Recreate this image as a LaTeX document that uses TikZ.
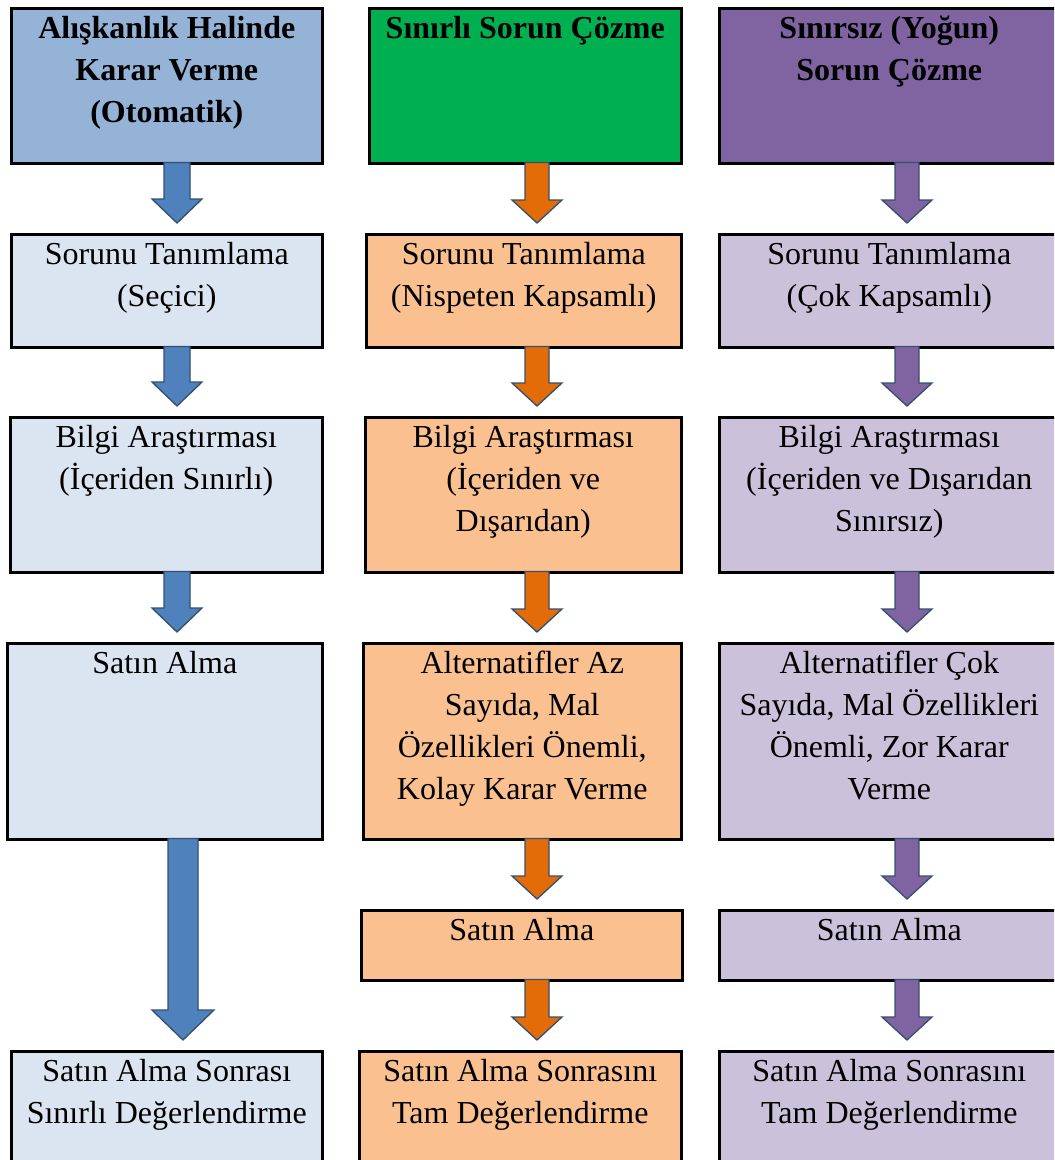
\documentclass[tikz,border=0pt]{standalone}
\usepackage{fontspec}
\setmainfont{Liberation Serif}
\usetikzlibrary{calc}
\definecolor{hdrA}{HTML}{95B3D7}
\definecolor{boxA}{HTML}{DBE5F1}
\definecolor{arrA}{HTML}{4F81BD}
\definecolor{hdrB}{HTML}{00B050}
\definecolor{boxB}{HTML}{FAC090}
\definecolor{arrB}{HTML}{E36C09}
\definecolor{hdrC}{HTML}{8064A2}
\definecolor{boxC}{HTML}{CCC1DA}
\definecolor{arrC}{HTML}{8064A2}
\definecolor{arrline}{HTML}{34506F}
\tikzset{
  stagebox/.style={draw=black, line width=1.9pt, rectangle, inner sep=0pt, anchor=north west},
  stagetext/.style={anchor=north, inner sep=0pt, align=center, text=black,
    font=\fontsize{24pt}{31.5pt}\selectfont},
  blockarrow/.style={draw=arrline, line width=1pt, line join=miter},
}
% name, x1, y1, x2, y2, fill, text
\newcommand\stg[7]{%
  \pgfmathsetmacro\stgw{(#4-#2)*0.75}%
  \pgfmathsetmacro\stgh{(#5-#3)*0.75}%
  \node[stagebox, fill=#6, minimum width=\stgw pt, minimum height=\stgh pt] (#1) at (#2,#3) {};
  \node[stagetext] (#1t) at ($(#1.north)+(0,2)$) {\strut #7};
}
% from, to, axis x (px), fill, shaft half width, head half width, head length (px)
\newcommand\blk[7]{%
  \draw[blockarrow, fill=#4] let \p1=(#1.south), \p2=(#2.north) in
    ({#3*0.75pt-#5*0.75pt}, {\y1+1.5pt}) --
    ({#3*0.75pt+#5*0.75pt}, {\y1+1.5pt}) --
    ({#3*0.75pt+#5*0.75pt}, {\y2+7.5pt+#7*0.75pt}) --
    ({#3*0.75pt+#6*0.75pt}, {\y2+7.5pt+#7*0.75pt}) --
    ({#3*0.75pt}, {\y2+7.5pt}) --
    ({#3*0.75pt-#6*0.75pt}, {\y2+7.5pt+#7*0.75pt}) --
    ({#3*0.75pt-#5*0.75pt}, {\y2+7.5pt+#7*0.75pt}) -- cycle;
}
\begin{document}
\begin{tikzpicture}[x=0.75pt, y=-0.75pt]
\useasboundingbox (0,0) rectangle (1054,1160);
\clip (0,0) rectangle (1054,1160);
\fill[white] (0,0) rectangle (1054,1160);

% Column 1
\stg{a1}{10}{7}{321}{162}{hdrA}{\bfseries Alışkanlık Halinde\\\bfseries Karar Verme\\\bfseries (Otomatik)}
\stg{a2}{10}{233}{321}{346}{boxA}{Sorunu Tanımlama\\(Seçici)}
\stg{a3}{9}{416}{321}{571}{boxA}{Bilgi Araştırması\\(İçeriden Sınırlı)}
\stg{a4}{6}{642}{321}{838}{boxA}{Satın Alma}
\stg{a6}{10}{1050}{321}{1180}{boxA}{Satın Alma Sonrası\\Sınırlı Değerlendirme}

% Column 2
\stg{b1}{368}{7}{680}{162}{hdrB}{\bfseries Sınırlı Sorun Çözme}
\stg{b2}{365}{233}{680}{346}{boxB}{Sorunu Tanımlama\\(Nispeten Kapsamlı)}
\stg{b3}{364}{416}{680}{571}{boxB}{Bilgi Araştırması\\(İçeriden ve\\Dışarıdan)}
\stg{b4}{362}{642}{680}{838}{boxB}{Alternatifler Az\\Sayıda, Mal\\Özellikleri Önemli,\\Kolay Karar Verme}
\stg{b5}{360}{909}{681}{979}{boxB}{Satın Alma}
\stg{b6}{358}{1050}{680}{1180}{boxB}{Satın Alma Sonrasını\\Tam Değerlendirme}

% Column 3
\stg{c1}{718}{7}{1058}{162}{hdrC}{\bfseries Sınırsız (Yoğun)\\\bfseries Sorun Çözme}
\stg{c2}{718}{233}{1058}{346}{boxC}{Sorunu Tanımlama\\(Çok Kapsamlı)}
\stg{c3}{718}{416}{1058}{571}{boxC}{Bilgi Araştırması\\(İçeriden ve Dışarıdan\\Sınırsız)}
\stg{c4}{718}{642}{1058}{838}{boxC}{Alternatifler Çok\\Sayıda, Mal Özellikleri\\Önemli, Zor Karar\\Verme}
\stg{c5}{718}{909}{1058}{979}{boxC}{Satın Alma}
\stg{c6}{718}{1050}{1058}{1180}{boxC}{Satın Alma Sonrasını\\Tam Değerlendirme}

% Arrows column 1
\blk{a1}{a2}{177}{arrA}{13}{25}{24}
\blk{a2}{a3}{177}{arrA}{13}{25}{24}
\blk{a3}{a4}{177}{arrA}{13}{25}{24}
\blk{a4}{a6}{183}{arrA}{15}{31}{30}

% Arrows column 2
\blk{b1}{b2}{537}{arrB}{12}{25}{23}
\blk{b2}{b3}{537}{arrB}{12}{25}{23}
\blk{b3}{b4}{537}{arrB}{12}{25}{23}
\blk{b4}{b5}{537}{arrB}{12}{25}{23}
\blk{b5}{b6}{537}{arrB}{12}{25}{23}

% Arrows column 3
\blk{c1}{c2}{907}{arrC}{12}{25}{23}
\blk{c2}{c3}{907}{arrC}{12}{25}{23}
\blk{c3}{c4}{907}{arrC}{12}{25}{23}
\blk{c4}{c5}{907}{arrC}{12}{25}{23}
\blk{c5}{c6}{907}{arrC}{12}{25}{23}
\end{tikzpicture}
\end{document}
